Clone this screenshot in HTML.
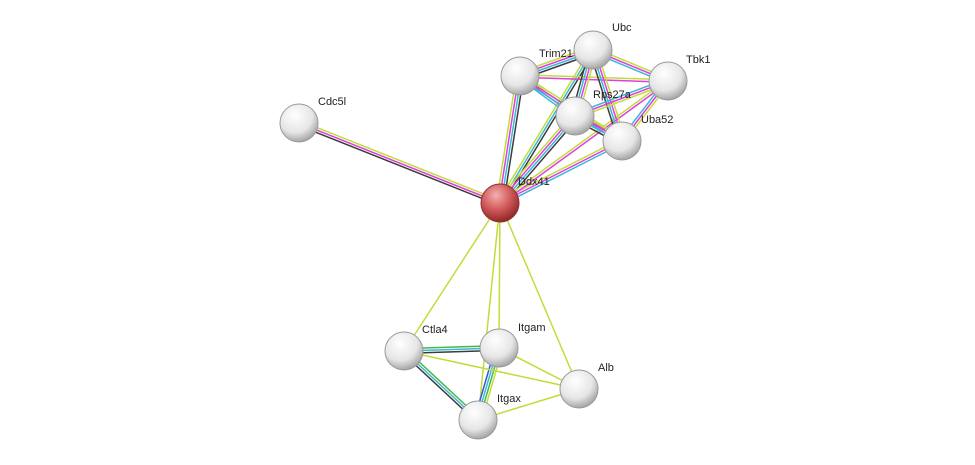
<!DOCTYPE html>
<html><head><meta charset="utf-8"><style>
html,body{margin:0;padding:0;background:#fff;}
svg{display:block;}
text{font-family:"Liberation Sans",sans-serif;font-size:11px;fill:#222;}
</style></head><body>
<svg id="s" width="975" height="465" viewBox="0 0 975 465" xmlns="http://www.w3.org/2000/svg">
<defs>
<radialGradient id="g" cx="0.4" cy="0.3" r="0.75">
<stop offset="0" stop-color="#ffffff"/><stop offset="0.6" stop-color="#e6e6e6"/><stop offset="1" stop-color="#9a9a9a"/>
</radialGradient>
<radialGradient id="r" cx="0.4" cy="0.3" r="0.75">
<stop offset="0" stop-color="#f4b0b0"/><stop offset="0.5" stop-color="#d25a5a"/><stop offset="1" stop-color="#8a2020"/>
</radialGradient>
</defs>
<g id="edges"></g>
<g id="nodes"></g>
</svg>
<script>
var N={
Cdc5l:[299,123,318,105],Ddx41:[500,203,518,185],Trim21:[520,76,539,57],Ubc:[593,50,612,31],
Tbk1:[668,81,686,63],Rps27a:[575,116,593,98],Uba52:[622,141,641,123],
Ctla4:[404,351,422,333],Itgam:[499,348,518,331],Alb:[579,389,598,371],Itgax:[478,420,497,402]};
var Y="#c2dc3a",M="#dd3fdd",D="#3c3c3c",C="#3cb8d6",B="#3555d8",G="#44b84a";
var E=[
["Cdc5l","Ddx41",[Y,M,D]],
["Ddx41","Trim21",[Y,M,C,D]],["Ddx41","Ubc",[Y,C,D]],["Ddx41","Rps27a",[Y,M,C,D]],
["Ddx41","Uba52",[Y,M,C]],["Ddx41","Tbk1",[Y,M]],
["Trim21","Ubc",[Y,M,C,D]],["Trim21","Tbk1",[Y,M]],["Trim21","Rps27a",[Y,M,C]],["Trim21","Uba52",[Y,M,C]],
["Ubc","Tbk1",[Y,M,C]],["Ubc","Rps27a",[Y,M,C,D]],["Ubc","Uba52",[Y,M,C,D]],
["Tbk1","Rps27a",[Y,M,C]],["Tbk1","Uba52",[Y,M,C]],["Rps27a","Uba52",[Y,M,C,D]],
["Ddx41","Ctla4",[Y]],["Ddx41","Itgam",[Y]],["Ddx41","Itgax",[Y]],["Ddx41","Alb",[Y]],
["Ctla4","Itgam",[G,C,D]],["Ctla4","Itgax",[G,C,D]],["Itgam","Itgax",[Y,G,C,B]],
["Ctla4","Alb",[Y]],["Itgam","Alb",[Y]],["Itgax","Alb",[Y]]];
var ns="http://www.w3.org/2000/svg",eg=document.getElementById("edges"),ng=document.getElementById("nodes");
E.forEach(function(e){var a=N[e[0]],b=N[e[1]],dx=b[0]-a[0],dy=b[1]-a[1],L=Math.hypot(dx,dy),px=-dy/L,py=dx/L,n=e[2].length;
e[2].forEach(function(c,i){var o=(i-(n-1)/2)*2.4,l=document.createElementNS(ns,"line");
l.setAttribute("x1",a[0]+px*o);l.setAttribute("y1",a[1]+py*o);l.setAttribute("x2",b[0]+px*o);l.setAttribute("y2",b[1]+py*o);
l.setAttribute("stroke",c);l.setAttribute("stroke-width","1.5");eg.appendChild(l);});});
for(var k in N){var p=N[k],c=document.createElementNS(ns,"circle");
c.setAttribute("cx",p[0]);c.setAttribute("cy",p[1]);c.setAttribute("r",19);
c.setAttribute("fill",k=="Ddx41"?"url(#r)":"url(#g)");c.setAttribute("stroke",k=="Ddx41"?"#8a3030":"#999");c.setAttribute("stroke-width","1");ng.appendChild(c);
var t=document.createElementNS(ns,"text");t.setAttribute("x",p[2]);t.setAttribute("y",p[3]);t.textContent=k;ng.appendChild(t);}
</script>
</body></html>
